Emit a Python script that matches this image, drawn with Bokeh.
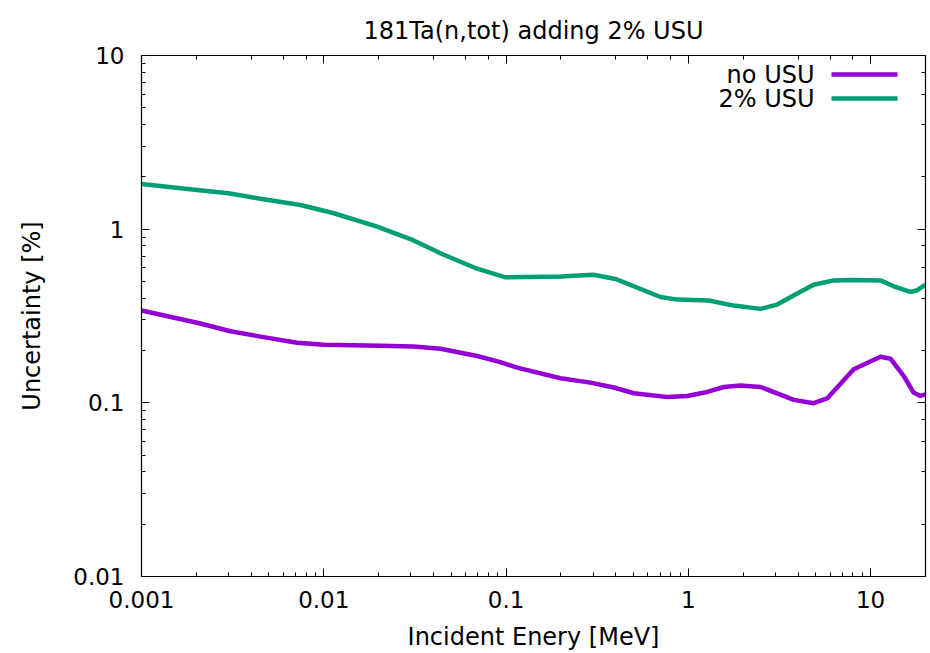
from bokeh.plotting import figure
from bokeh.models import (LogAxis, CustomJSTickFormatter, Label, BoxAnnotation, Range1d)
from bokeh.embed import file_html
from bokeh.resources import INLINE

# Energy grid [MeV] and uncertainties [%] for 181Ta(n,tot)
energy_no_usu = [0.001, 0.00202, 0.00308, 0.00467, 0.00714, 0.01, 0.0205, 0.031,
                 0.0437, 0.0694, 0.093, 0.115, 0.199, 0.29, 0.39, 0.502, 0.765,
                 0.985, 1.268, 1.564, 1.93, 2.49, 3.79, 4.87, 5.77, 8.08, 11.32,
                 12.85, 15.2, 17.2, 18.75, 20.0]
unc_no_usu = [0.340, 0.289, 0.2585, 0.239, 0.222, 0.216, 0.213, 0.211,
              0.205, 0.186, 0.1716, 0.1594, 0.1385, 0.1307, 0.1225, 0.1135, 0.108,
              0.1096, 0.1155, 0.1234, 0.126, 0.1234, 0.104, 0.0995, 0.106, 0.156, 0.1844,
              0.1795, 0.1427, 0.1146, 0.1096, 0.112]

energy_usu = [0.001, 0.00202, 0.003, 0.00467, 0.00745, 0.01135, 0.01963, 0.02988, 0.0455,
              0.0694, 0.0993, 0.2, 0.301, 0.398, 0.703, 0.868, 1.294, 1.775, 2.49,
              3.07, 4.0, 4.87, 6.28, 8.0, 11.32, 13.4, 16.5, 18.0, 20.0]
unc_usu = [1.82, 1.68, 1.609, 1.486, 1.378, 1.235, 1.035, 0.877, 0.712,
           0.592, 0.528, 0.534, 0.547, 0.517, 0.407, 0.393, 0.388, 0.363, 0.3475,
           0.368, 0.429, 0.479, 0.507, 0.510, 0.507, 0.469, 0.435, 0.445, 0.479]

series_names = ["no USU", "2% USU"]
series_colors = ["#9400D3", "#009E73"]
title_text = "181Ta(n,tot) adding 2% USU"

FONT = "DejaVu Sans"
FRAME_W, FRAME_H = 784, 523

p = figure(width=930, height=653, x_axis_type="log", y_axis_type="log",
           x_range=Range1d(0.001, 20), y_range=Range1d(0.01, 10),
           output_backend="svg", toolbar_location=None,
           min_border_left=141, min_border_right=5, min_border_top=55, min_border_bottom=75)

p.title.text = title_text
p.title.align = "center"
p.title.text_font = FONT
p.title.text_font_size = "24px"
p.title.text_font_style = "normal"
p.title.text_color = "black"
p.title.standoff = 22

p.xgrid.visible = False
p.ygrid.visible = False
p.outline_line_color = "black"
p.outline_line_width = 1.2

label_fmt = CustomJSTickFormatter(code="return Number(tick.toPrecision(6)).toString();")
blank_fmt = CustomJSTickFormatter(code="return '';")


def style_axis(ax, labelled):
    ax.major_tick_in = 8
    ax.major_tick_out = 0
    ax.minor_tick_in = 4
    ax.minor_tick_out = 0
    ax.axis_line_color = "black"
    ax.major_tick_line_color = "black"
    ax.minor_tick_line_color = "black"
    ax.major_label_text_font = FONT
    ax.major_label_text_font_size = "23px"
    ax.major_label_text_color = "black"
    ax.axis_label_text_font = FONT
    ax.axis_label_text_font_size = "24px"
    ax.axis_label_text_font_style = "normal"
    ax.axis_label_text_color = "black"
    ax.formatter = label_fmt if labelled else blank_fmt


xa = p.xaxis[0]
ya = p.yaxis[0]
style_axis(xa, True)
style_axis(ya, True)
xa.axis_label = "Incident Enery [MeV]"
ya.axis_label = "Uncertainty [%]"
xa.major_label_standoff = 14
ya.major_label_standoff = 17
xa.axis_label_standoff = 12
ya.axis_label_standoff = 24

top_ax = LogAxis()
right_ax = LogAxis()
style_axis(top_ax, False)
style_axis(right_ax, False)
top_ax.major_label_text_font_size = "0px"
right_ax.major_label_text_font_size = "0px"
top_ax.major_label_standoff = 0
right_ax.major_label_standoff = 0
p.add_layout(top_ax, "above")
p.add_layout(right_ax, "right")

p.line(energy_no_usu, unc_no_usu, line_color=series_colors[0], line_width=4.5,
       line_join="round")
p.line(energy_usu, unc_usu, line_color=series_colors[1], line_width=4.5,
       line_join="round")

# key in the upper right: right-aligned text followed by a line sample
for i, (name, color) in enumerate(zip(series_names, series_colors)):
    y_scr = FRAME_H - 21 - 24 * i
    p.add_layout(Label(x=FRAME_W - 111, y=y_scr, x_units="screen", y_units="screen", text=name,
                       text_align="right", text_baseline="middle", text_font=FONT,
                       text_font_size="24px", text_color="black"))
    p.add_layout(BoxAnnotation(left=FRAME_W - 94, right=FRAME_W - 28,
                               bottom=y_scr - 2.3, top=y_scr + 2.3,
                               left_units="screen", right_units="screen",
                               bottom_units="screen", top_units="screen",
                               fill_color=color, fill_alpha=1.0, line_alpha=0))

open("out.html", "w").write(file_html(p, INLINE))
